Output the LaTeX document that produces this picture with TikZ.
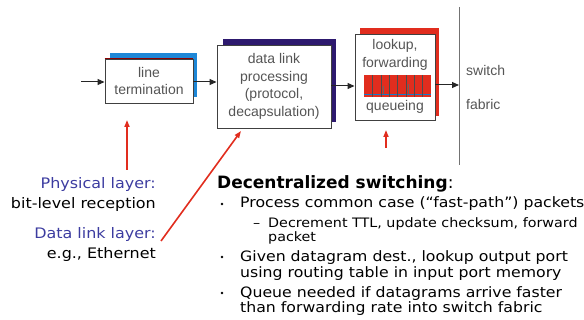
\documentclass[tikz,border=0pt]{standalone}
\usepackage{fontspec}
\setmainfont{DejaVu Sans}
\newfontfamily\comic[FakeStretch=1.1]{DejaVu Sans}
\newfontfamily\arial{Liberation Sans}
\usetikzlibrary{arrows.meta}
\definecolor{shblue}{RGB}{30,135,215}
\definecolor{shnavy}{RGB}{45,25,110}
\definecolor{shred}{RGB}{225,45,30}
\definecolor{lblblue}{RGB}{60,60,160}
\definecolor{boxtxt}{RGB}{85,85,85}
\tikzset{
  frontbox/.style={draw=black!75, line width=0.9pt, fill=white, align=center, inner sep=0pt,
     font=\arial\fontsize{14}{17.5}\selectfont, text=boxtxt},
  backbox/.style={inner sep=0pt},
  blackarrow/.style={-{Triangle[length=7pt,width=6pt]}, line width=1pt, black!85},
  redarrow/.style={-{Triangle[length=7pt,width=5pt]}, line width=1.6pt, shred},
  lefttxt/.style={anchor=east, inner sep=0pt, font=\comic\fontsize{14.5}{16}\selectfont, text height=11pt, text depth=3pt},
  righttxt/.style={anchor=west, inner sep=0pt, font=\comic\fontsize{14.3}{16}\selectfont, text height=11pt, text depth=3pt},
  subtxt/.style={anchor=west, inner sep=0pt, font=\comic\fontsize{13}{14}\selectfont, text height=9pt, text depth=3pt},
  fabtxt/.style={anchor=west, inner sep=0pt, font=\arial\fontsize{14}{17}\selectfont, text=boxtxt},
  bulletdot/.style={circle, fill=black, inner sep=0pt, minimum size=2.6pt},
}
\begin{document}
\begin{tikzpicture}[x=1pt,y=-1pt]
\useasboundingbox (0,0) rectangle (584,320);
% back shadows
\node[backbox, fill=shblue, minimum width=87pt, minimum height=44pt] (ltb) at (153.5,75) {};
\node[backbox, fill=shnavy, minimum width=113pt, minimum height=83pt] (dlb) at (279.5,80.5) {};
\node[backbox, fill=shred, minimum width=79pt, minimum height=88pt] (lkb) at (399.5,72) {};
% front boxes
\node[frontbox, minimum width=88pt, minimum height=44pt] (lt) at (149,81) {line\\termination};
\draw[draw=red!55!black, line width=0.9pt] (lt.north west) -- (lt.north east);
\node[frontbox, minimum width=114pt, minimum height=83pt] (dl) at (274,86.5) {data link\\processing\\(protocol,\\decapsulation)};
\node[frontbox, minimum width=80pt, minimum height=86pt] (lk) at (395,77) {};
\node[font=\arial\fontsize{14}{18}\selectfont, text=boxtxt, align=center, inner sep=0pt] (lkt) at (395,55) {lookup,\\forwarding};
\node[font=\arial\fontsize{14}{17}\selectfont, text=boxtxt, inner sep=0pt] (qt) at (395,107) {queueing};
% queue
\fill[shred] (364,75) rectangle (431,97);
\draw[cyan!60!blue, line width=0.6pt] (364,94) -- (431,94);
\foreach \i in {1,...,7}{
  \draw[black!70, line width=0.5pt] ({364+\i*67/8},75) -- ({364+\i*67/8},97);
}
\draw[black!60, line width=0.4pt] (383,86) -- (383,94);
\draw[black!60, line width=0.4pt] (408,84) -- (408,94);
% switch fabric
\coordinate (sfT) at (459,7);
\coordinate (sfB) at (459,165);
\draw[black!55, line width=1pt] (sfT) -- (sfB);
\node[fabtxt] (sw) at (466,70) {switch};
\node[fabtxt] (fb) at (466,104) {fabric};
% black arrows
\coordinate (inp) at (81,82);
\draw[blackarrow] (inp) -- (inp -| lt.west);
\draw[blackarrow] (lt.east |- 0,82) -- (dl.west |- 0,82);
\draw[blackarrow] (dl.east |- 0,86) -- (lk.west |- 0,86);
\draw[blackarrow] (lk.east |- 0,85) -- (sfT |- 0,85);
% left labels
\node[lefttxt, text=lblblue] (phy) at (156,185) {Physical layer:};
\node[lefttxt] (bit) at (156,205) {bit-level reception};
\node[lefttxt, text=lblblue] (dll) at (156,235) {Data link layer:};
\node[lefttxt] (eth) at (156,255) {e.g., Ethernet};
% red arrows
\coordinate (r1s) at (127,170);
\coordinate (r1e) at (127,120);
\draw[redarrow] (r1s) -- (r1e);
\coordinate (r2s) at (386,148);
\coordinate (r2e) at (386,130);
\draw[redarrow] (r2s) -- (r2e);
\coordinate (r3s) at (161,241);
\coordinate (r3e) at (241,131);
\draw[redarrow] (r3s) -- (r3e);
% right text
\node[anchor=west, inner sep=0pt, font=\fontsize{17}{20}\selectfont, text height=13pt, text depth=4pt] (hd) at (217,184) {\textbf{Decentralized switching}:};
\foreach \y/\n in {204/b1,257/b2,293/b3}{
  \node[bulletdot] (\n) at (222,\y) {};
}
\node[righttxt] (l1) at (240,204) {Process common case (“fast-path”) packets};
\node[subtxt] (sd) at (253,225) {–};
\node[subtxt] (l2) at (268,225) {Decrement TTL, update checksum, forward};
\node[subtxt] (l3) at (268,239) {packet};
\node[righttxt] (l4) at (240,258) {Given datagram dest., lookup output port};
\node[righttxt] (l5) at (240,274) {using routing table in input port memory};
\node[righttxt] (l6) at (240,294) {Queue needed if datagrams arrive faster};
\node[righttxt] (l7) at (240,309) {than forwarding rate into switch fabric};
\end{tikzpicture}
\end{document}
